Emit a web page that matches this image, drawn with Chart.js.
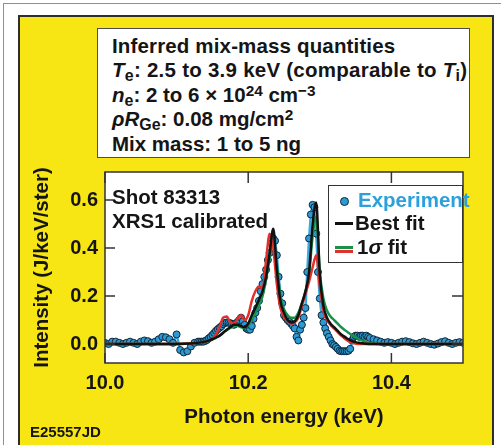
<!DOCTYPE html>
<html>
<head>
<meta charset="utf-8">
<script src="https://cdn.jsdelivr.net/npm/chart.js@4.4.1/dist/chart.umd.min.js"></script>
<style>
  html, body { margin: 0; padding: 0; }
  body { width: 501px; height: 445px; position: relative; overflow: hidden; background: #fff; }
  #frameTop { position: absolute; left: 3px; top: 3px; width: 498px; height: 0; border-top: 1.5px solid #4da3dc; }
  #frameLeft { position: absolute; left: 3px; top: 3px; width: 0; height: 442px; border-left: 1.5px solid #4da3dc; }
  #panel { position: absolute; left: 18px; top: 15px; width: 476px; height: 440px; box-sizing: border-box;
           background: #f7e614; border: 2px solid #2e2e2e; }
  #spectrumChart { position: absolute; left: 0; top: 0; }
  #infoBox { position: absolute; left: 97px; top: 28px; width: 373px; height: 130px; box-sizing: border-box;
             background: #fff; border: 1.5px solid #4d4d4d; }
  #legendBox { position: absolute; left: 328px; top: 185px; width: 135px; height: 78px; box-sizing: border-box;
               background: #fff; border: 1.5px solid #333; }
  .t { position: absolute; font: bold 20.5px/20.5px 'Liberation Sans', Arial, sans-serif; white-space: nowrap; color: #151515; }
  .t sub { font-size: 0.78em; vertical-align: -0.28em; line-height: 0; }
  .t sup { font-size: 0.75em; vertical-align: 0.42em; line-height: 0; }
  .mark { position: absolute; }
</style>
</head>
<body>
<div id="frameTop"></div>
<div id="frameLeft"></div>
<div id="panel"></div>
<canvas id="spectrumChart" width="501" height="445"></canvas>

<div id="infoBox"></div>
<div class="t" style="left:112px;top:35.6px;letter-spacing:0.15px">Inferred mix-mass quantities</div>
<div class="t" style="left:112px;top:60.1px;letter-spacing:0.25px"><i>T</i><sub>e</sub>: 2.5 to 3.9 keV (comparable to <i>T</i><sub>i</sub>)</div>
<div class="t" style="left:112px;top:84.6px"><i>n</i><sub>e</sub>: 2 to 6 × 10<sup>24</sup> cm<sup>−3</sup></div>
<div class="t" style="left:112px;top:109.1px"><i>ρR</i><sub>Ge</sub>: 0.08 mg/cm<sup>2</sup></div>
<div class="t" style="left:112px;top:133.6px">Mix mass: 1 to 5 ng</div>

<div class="t" style="left:112px;top:186.6px">Shot 83313</div>
<div class="t" style="left:112px;top:210.6px">XRS1 calibrated</div>

<div id="legendBox"></div>
<div class="mark" style="left:340px;top:197px;width:7px;height:7px;border-radius:50%;background:#2c9ad4;border:1px solid #10283a;"></div>
<div class="t" style="left:358px;top:189.6px;color:#2ba0dc">Experiment</div>
<div class="mark" style="left:335px;top:221.5px;width:18px;height:3px;background:#111;"></div>
<div class="t" style="left:355px;top:212.6px">Best fit</div>
<div class="mark" style="left:335px;top:246px;width:18px;height:3px;background:#16924a;"></div>
<div class="mark" style="left:335px;top:250px;width:18px;height:3px;background:#e2312d;"></div>
<div class="t" style="left:357px;top:236.6px">1<i>σ</i> fit</div>

<div class="t" style="left:30px;top:424px;font-size:15px;line-height:15px">E25557JD</div>

<script>
// tick positions
const xTicks = [10.0, 10.2, 10.4];
const yTicks = [0.0, 0.2, 0.4, 0.6];

// measured spectrum (keV, J/keV/ster)
const expEnergy = [
  10.000, 10.005, 10.010, 10.015, 10.020, 10.025, 10.030, 10.035, 10.040, 10.045,
  10.050, 10.055, 10.060, 10.065, 10.070, 10.075, 10.080, 10.085, 10.090, 10.095,
  10.100, 10.105, 10.110, 10.115, 10.120, 10.125, 10.130,
  10.1325, 10.135, 10.1375, 10.14, 10.1425, 10.145, 10.1475, 10.15, 10.1525, 10.155,
  10.1575, 10.16, 10.1625, 10.165, 10.1675, 10.17, 10.1725, 10.175, 10.1775, 10.18,
  10.1825, 10.185, 10.1875, 10.19, 10.1925, 10.195, 10.1975, 10.20, 10.2025, 10.205,
  10.2075, 10.21, 10.2125, 10.215, 10.2175, 10.22, 10.2225, 10.225, 10.2275, 10.23,
  10.2325, 10.235, 10.2375, 10.24, 10.2425, 10.245, 10.2475, 10.25, 10.2525, 10.255,
  10.2575, 10.26, 10.2625, 10.265, 10.2675, 10.27, 10.2725, 10.275, 10.2775, 10.28,
  10.2825, 10.285, 10.2875, 10.29, 10.2925, 10.295, 10.2975, 10.30, 10.3025, 10.305,
  10.3075, 10.31, 10.3125, 10.315, 10.3175, 10.32, 10.3225, 10.325, 10.3275, 10.33,
  10.3325, 10.335, 10.3375, 10.34, 10.3425, 10.345, 10.3475, 10.35, 10.3525, 10.355,
  10.3575, 10.36, 10.3625, 10.365, 10.3675, 10.37,
  10.375, 10.380, 10.385, 10.390, 10.395, 10.400, 10.405, 10.410, 10.415, 10.420,
  10.425, 10.430, 10.435, 10.440, 10.445, 10.450, 10.455, 10.460, 10.465, 10.470,
  10.475, 10.480, 10.485, 10.490, 10.495, 10.500
];
const expIntensity = [
  0.005, 0.0, 0.01, 0.01, 0.005, 0.0, 0.005, 0.01, 0.005, 0.0,
  0.01, 0.015, 0.012, 0.005, 0.01, 0.02, 0.03, 0.028, 0.02, 0.005,
  0.04, -0.025, -0.035, -0.03, -0.01, 0.005, 0.01,
  0.01, 0.01, 0.01, 0.013, 0.017, 0.024, 0.03, 0.038, 0.046, 0.055,
  0.062, 0.068, 0.074, 0.083, 0.088, 0.09, 0.089, 0.087, 0.084, 0.08,
  0.085, 0.092, 0.10, 0.11, 0.095, 0.08, 0.065, 0.06, 0.06, 0.075,
  0.105, 0.13, 0.15, 0.18, 0.22, 0.25, 0.28, 0.31, 0.35, 0.38,
  0.42, 0.44, 0.43, 0.37, 0.28, 0.21, 0.17, 0.12, 0.11, 0.10,
  0.093, 0.085, 0.075, 0.065, 0.03, 0.015, 0.06, 0.08, 0.11, 0.15,
  0.30, 0.44, 0.54, 0.58, 0.57, 0.46, 0.30, 0.19, 0.12, 0.09,
  0.065, 0.045, 0.03, 0.015, 0.0, -0.005, -0.012, -0.02, -0.028, -0.03,
  -0.03, -0.03, -0.03, -0.028, -0.02, 0.015, 0.03, 0.035, 0.035, 0.03,
  0.035, 0.035, 0.03, 0.035, 0.03, 0.025,
  0.02, 0.015, 0.01, 0.005, 0.008, 0.005, 0.0, 0.005, 0.01, 0.012,
  0.008, 0.003, 0.0, 0.005, 0.01, 0.005, 0.0, -0.003, 0.002, 0.008,
  0.012, 0.005, 0.0, 0.005, 0.008, 0.005
];

// model fits on a common energy grid
const fitEnergy = [
  10.00, 10.05, 10.10, 10.12, 10.14, 10.145, 10.15, 10.155, 10.16, 10.165,
  10.17, 10.175, 10.18, 10.185, 10.19, 10.195, 10.20, 10.205, 10.21, 10.215,
  10.22, 10.225, 10.23, 10.235, 10.24, 10.245, 10.25, 10.255, 10.26, 10.265,
  10.27, 10.275, 10.28, 10.285, 10.29, 10.295, 10.30, 10.305, 10.31, 10.315,
  10.32, 10.325, 10.33, 10.335, 10.34, 10.345, 10.35, 10.355, 10.36, 10.365,
  10.37, 10.38, 10.40, 10.45, 10.50
];
const bestFit = [
  0, 0, 0, 0.002, 0.01, 0.015, 0.02, 0.027, 0.035, 0.047,
  0.06, 0.07, 0.08, 0.08, 0.075, 0.07, 0.085, 0.12, 0.15, 0.185,
  0.22, 0.28, 0.38, 0.48, 0.31, 0.18, 0.13, 0.10, 0.09, 0.095,
  0.12, 0.17, 0.22, 0.30, 0.50, 0.59, 0.29, 0.16, 0.11, 0.085,
  0.07, 0.055, 0.04, 0.03, 0.02, 0.012, 0.008, 0.005, 0.003, 0.001,
  0, 0, 0, 0, 0
];
const sigmaFitGreen = [
  0, 0, 0, 0.002, 0.01, 0.015, 0.02, 0.027, 0.035, 0.047,
  0.058, 0.067, 0.075, 0.075, 0.07, 0.068, 0.078, 0.10, 0.13, 0.16,
  0.20, 0.27, 0.36, 0.44, 0.33, 0.20, 0.145, 0.12, 0.11, 0.11,
  0.13, 0.17, 0.22, 0.29, 0.45, 0.53, 0.30, 0.19, 0.14, 0.115,
  0.10, 0.085, 0.07, 0.058, 0.047, 0.037, 0.028, 0.02, 0.013, 0.008,
  0.004, 0, 0, 0, 0
];
const sigmaFitRed = [
  0, 0, 0, 0.002, 0.01, 0.015, 0.022, 0.04, 0.07, 0.11,
  0.115, 0.09, 0.085, 0.105, 0.12, 0.10, 0.12, 0.18, 0.22, 0.24,
  0.23, 0.35, 0.46, 0.40, 0.25, 0.15, 0.115, 0.095, 0.085, 0.09,
  0.11, 0.16, 0.21, 0.26, 0.32, 0.37, 0.24, 0.14, 0.10, 0.08,
  0.065, 0.05, 0.035, 0.022, 0.012, 0.005, 0.002, 0, 0, 0,
  0, 0, 0, 0, 0
];

function toPoints(xs, ys) {
    return xs.map((x, i) => ({ x: x, y: ys[i] }));
}

const fontFamily = "'Liberation Sans', Arial, sans-serif";

// white plot area, frame and inward ticks
const plotFrame = {
    id: 'plotFrame',
    beforeDraw(chart) {
        const { ctx, chartArea: a } = chart;
        ctx.save();
        ctx.fillStyle = '#fff';
        ctx.fillRect(a.left, a.top, a.right - a.left, a.bottom - a.top);
        ctx.restore();
    },
    afterDraw(chart) {
        const { ctx, chartArea: a, scales } = chart;
        ctx.save();
        ctx.strokeStyle = '#333';
        ctx.lineWidth = 1.5;
        ctx.strokeRect(a.left, a.top, a.right - a.left, a.bottom - a.top);
        ctx.beginPath();
        yTicks.forEach(v => {
            const py = scales.y.getPixelForValue(v);
            ctx.moveTo(a.left, py); ctx.lineTo(a.left + 10, py);
            ctx.moveTo(a.right, py); ctx.lineTo(a.right - 11, py);
        });
        xTicks.forEach(v => {
            const px = scales.x.getPixelForValue(v);
            ctx.moveTo(px, a.bottom); ctx.lineTo(px, a.bottom - 10);
            ctx.moveTo(px, a.top); ctx.lineTo(px, a.top + 11);
        });
        ctx.stroke();
        ctx.restore();
    }
};

const ctx = document.getElementById('spectrumChart').getContext('2d');
new Chart(ctx, {
    type: 'scatter',
    data: {
        datasets: [
            {
                label: 'Experiment',
                data: toPoints(expEnergy, expIntensity),
                showLine: true,
                borderColor: '#3aaae2',
                borderWidth: 2.5,
                tension: 0,
                pointRadius: 3.5,
                pointBackgroundColor: '#2c9ad4',
                pointBorderColor: '#10283a',
                pointBorderWidth: 1,
                order: 4
            },
            {
                label: '1σ fit (green)',
                data: toPoints(fitEnergy, sigmaFitGreen),
                showLine: true,
                borderColor: '#16924a',
                borderWidth: 2.5,
                pointRadius: 0,
                cubicInterpolationMode: 'monotone',
                order: 3
            },
            {
                label: '1σ fit (red)',
                data: toPoints(fitEnergy, sigmaFitRed),
                showLine: true,
                borderColor: '#e2312d',
                borderWidth: 2.5,
                pointRadius: 0,
                cubicInterpolationMode: 'monotone',
                order: 2
            },
            {
                label: 'Best fit',
                data: toPoints(fitEnergy, bestFit),
                showLine: true,
                borderColor: '#111',
                borderWidth: 2.5,
                pointRadius: 0,
                cubicInterpolationMode: 'monotone',
                order: 1
            }
        ]
    },
    options: {
        responsive: false,
        animation: false,
        devicePixelRatio: 1,
        layout: { padding: { left: 0, right: 38, top: 172, bottom: 0 } },
        plugins: { legend: { display: false }, tooltip: { enabled: false } },
        scales: {
            x: {
                type: 'linear',
                min: 10.0,
                max: 10.5,
                afterBuildTicks: s => { s.ticks = xTicks.map(v => ({ value: v })); },
                afterFit: s => { s.height = 82; },
                grid: { display: false, drawTicks: false },
                border: { display: false },
                ticks: {
                    font: { family: fontFamily, size: 20, weight: 'bold' },
                    color: '#151515',
                    padding: 8,
                    maxRotation: 0,
                    callback: v => v.toFixed(1)
                },
                title: {
                    display: true,
                    text: 'Photon energy (keV)',
                    font: { family: fontFamily, size: 20.5, weight: 'bold' },
                    color: '#151515',
                    padding: { top: 0, bottom: 15.7 }
                }
            },
            y: {
                type: 'linear',
                min: -0.079,
                max: 0.717,
                afterBuildTicks: s => { s.ticks = yTicks.map(v => ({ value: v })); },
                afterFit: s => { s.width = 105; },
                grid: { display: false, drawTicks: false },
                border: { display: false },
                ticks: {
                    font: { family: fontFamily, size: 20, weight: 'bold' },
                    color: '#151515',
                    padding: 7,
                    callback: v => v.toFixed(1)
                },
                title: {
                    display: true,
                    text: 'Intensity (J/keV/ster)',
                    font: { family: fontFamily, size: 20.5, weight: 'bold' },
                    color: '#151515',
                    padding: { top: 30, bottom: 0 }
                }
            }
        }
    },
    plugins: [plotFrame]
});
</script>
</body>
</html>
